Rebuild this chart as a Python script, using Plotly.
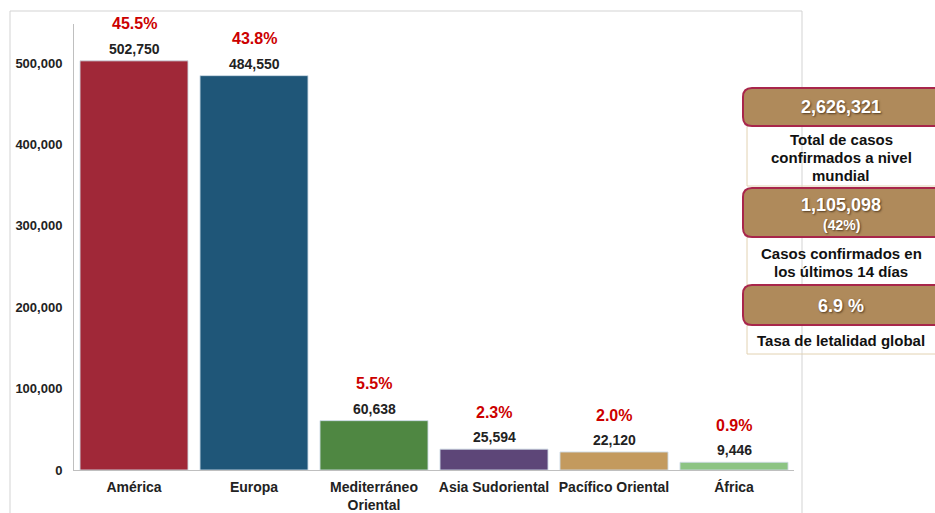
import plotly.graph_objects as go

regions = ["América", "Europa", "Mediterráneo<br>Oriental", "Asia Sudoriental", "Pacífico Oriental", "África"]
cases = [502750, 484550, 60638, 25594, 22120, 9446]
shares = ["45.5%", "43.8%", "5.5%", "2.3%", "2.0%", "0.9%"]
colors = ["#A02838", "#1F5678", "#4F8742", "#5D4678", "#C39A5E", "#8CC483"]
y_ticks = [0, 100000, 200000, 300000, 400000, 500000]

total_cases = "2,626,321"
recent_cases = "1,105,098"
recent_share = "(42%)"
lethality = "6.9 %"

W, H = 935, 513
L, R, T, B = 74, 141, 24, 43
PW, PH = W - L - R, H - T - B

def px(x):
    return (x - L) / PW

def py(y):
    return (H - B - y) / PH

FONT = "Arial, Liberation Sans, sans-serif"

fig = go.Figure()
fig.add_trace(go.Bar(
    x=regions, y=cases,
    marker=dict(color=colors, line=dict(color="rgba(205,218,228,0.9)", width=1)),
    hoverinfo="x+y",
))

ann = []
for r, v in zip(regions, cases):
    ann.append(dict(x=r, y=v, xref="x", yref="y", text=f"<b>{v:,}</b>", showarrow=False,
                    yanchor="middle", yshift=12, font=dict(family=FONT, size=14, color="#222222")))
for r, v, s in zip(regions, cases, shares):
    ann.append(dict(x=r, y=v, xref="x", yref="y", text=f"<b>{s}</b>", showarrow=False,
                    yanchor="middle", yshift=37, font=dict(family=FONT, size=16, color="#CC0000")))

shapes = []
# outer frame
shapes.append(dict(type="rect", xref="paper", yref="paper", x0=px(10), x1=px(802), y0=py(530), y1=py(11),
                   line=dict(color="#D3D3D3", width=1), fillcolor="rgba(0,0,0,0)", layer="below"))

def rrect(x0, y0, x1, y1, r):
    X0, X1 = px(x0), px(x1)
    Y0, Y1 = py(y0), py(y1)
    rx, ry = r / PW, r / PH
    return (f"M {X0+rx},{Y0} L {X1-rx},{Y0} Q {X1},{Y0} {X1},{Y0-ry} "
            f"L {X1},{Y1+ry} Q {X1},{Y1} {X1-rx},{Y1} L {X0+rx},{Y1} "
            f"Q {X0},{Y1} {X0},{Y1+ry} L {X0},{Y0-ry} Q {X0},{Y0} {X0+rx},{Y0} Z")

# text areas
for (a, b) in [(125, 186), (237, 285), (325, 354)]:
    shapes.append(dict(type="rect", xref="paper", yref="paper", x0=px(747), x1=px(960), y0=py(b), y1=py(a),
                       line=dict(color="#E2D2B2", width=1), fillcolor="rgba(0,0,0,0)", layer="above"))
# boxes
for (a, b) in [(88, 126), (188, 237), (285, 325)]:
    shapes.append(dict(type="path", xref="paper", yref="paper", path=rrect(743, a, 960, b, 9),
                       line=dict(color="#A8264B", width=2), fillcolor="#AF8A5B", layer="above"))

def txt(x, y, text, size, color="#111111", shadow="none"):
    ann.append(dict(x=px(x), y=py(y), xref="paper", yref="paper", text=f"<b>{text}</b>", showarrow=False,
                    xanchor="center", yanchor="middle",
                    font=dict(family=FONT, size=size, color=color, shadow=shadow)))

sh = "1px 1px 2px rgba(60,40,20,0.8)"
cx = 841
txt(cx, 107, total_cases, 18, "white", sh)
txt(cx, 139, "Total de casos", 15)
txt(cx, 157, "confirmados a nivel", 15)
txt(cx, 175, "mundial", 15)
txt(cx, 205, recent_cases, 18, "white", sh)
txt(cx, 225, recent_share, 14, "white", sh)
txt(cx, 254, "Casos confirmados en", 15)
txt(cx, 271, "los últimos 14 días", 15)
txt(cx, 306, lethality, 18, "white", sh)
txt(cx, 340, "Tasa de letalidad global", 15)

fig.update_layout(
    width=W, height=H,
    margin=dict(l=L, r=R, t=T, b=B),
    paper_bgcolor="white", plot_bgcolor="white",
    bargap=0.1,
    showlegend=False,
    annotations=ann,
    shapes=shapes,
    xaxis=dict(showline=True, linecolor="#BFBFBF", linewidth=1, showgrid=False, ticks="", automargin=False,
               ticklabelstandoff=4,
               tickfont=dict(family=FONT, size=14, color="#222222", weight="bold"), fixedrange=True),
    yaxis=dict(range=[0, 548000], tickvals=y_ticks, tickformat=",", showline=True, linecolor="#BFBFBF",
               linewidth=1, showgrid=False, zeroline=False, ticks="", ticklabelstandoff=8, automargin=False,
               tickfont=dict(family=FONT, size=13, color="#222222", weight="bold"), fixedrange=True),
)

fig.write_html("out.html", config={"displayModeBar": False},
               post_script="document.body.style.margin='0px';document.body.style.overflow='hidden';")
